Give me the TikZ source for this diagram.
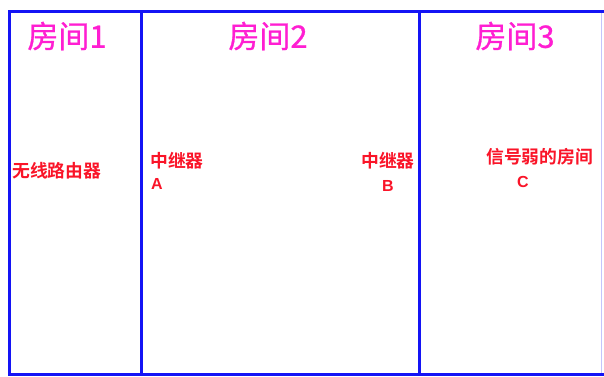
\documentclass[tikz,border=0pt]{standalone}
\usepackage{fontspec}
\newfontfamily\cjk[FakeBold=0.8]{Noto Sans CJK SC}
\newfontfamily\cjkb{Noto Sans CJK SC Bold}
\newfontfamily\latb{Liberation Sans Bold}
\definecolor{wallblue}{RGB}{20,20,245}
\definecolor{titlemag}{RGB}{255,30,210}
\definecolor{labred}{RGB}{250,20,40}
\begin{document}
\begin{tikzpicture}[x=1pt,y=-1pt,
  wall/.style={draw=wallblue,line width=3pt},
  roomtitle/.style={inner sep=0pt,text=titlemag,font=\cjk\fontsize{31}{32}\selectfont},
  lab/.style={inner sep=0pt,text=labred,font=\cjkb\fontsize{17.8}{18}\selectfont},
  letter/.style={inner sep=0pt,text=labred,font=\latb\fontsize{16}{17}\selectfont}]
\useasboundingbox (0,0) rectangle (604,376);
\fill[white] (0,0) rectangle (604,376);
\coordinate (tl) at (9,11);
\coordinate (tr) at (604,11);
\coordinate (bl) at (9,374);
\coordinate (br) at (604,374);
\coordinate (d1t) at (141.5,11);
\coordinate (d1b) at (141.5,374);
\coordinate (d2t) at (419.5,11);
\coordinate (d2b) at (419.5,374);
\coordinate (rt) at (601,11);
\coordinate (rb) at (601,374);
\draw[draw=wallblue!25,line width=1pt] (rt) -- (rb);
\draw[wall] (tr) -- (tl) -- (bl) -- (br);
\draw[wall] (d1t) -- (d1b);
\draw[wall] (d2t) -- (d2b);
\node[roomtitle] (r1) at (67,36) {房间1};
\node[roomtitle] (r2) at (268,36) {房间2};
\node[roomtitle] (r3) at (515,36) {房间3};
\node[lab,anchor=west] (router) at (12,171) {无线路由器};
\node[lab,anchor=west] (repA) at (150,161) {中继器};
\node[letter,anchor=west] (la) at (151,184) {A};
\node[lab] (repB) at (388,161) {中继器};
\node[letter] (lb) at (388,186) {B};
\node[lab,anchor=west] (weak) at (486,157) {信号弱的房间};
\node[letter] (lc) at (523,182) {C};
\end{tikzpicture}
\end{document}
